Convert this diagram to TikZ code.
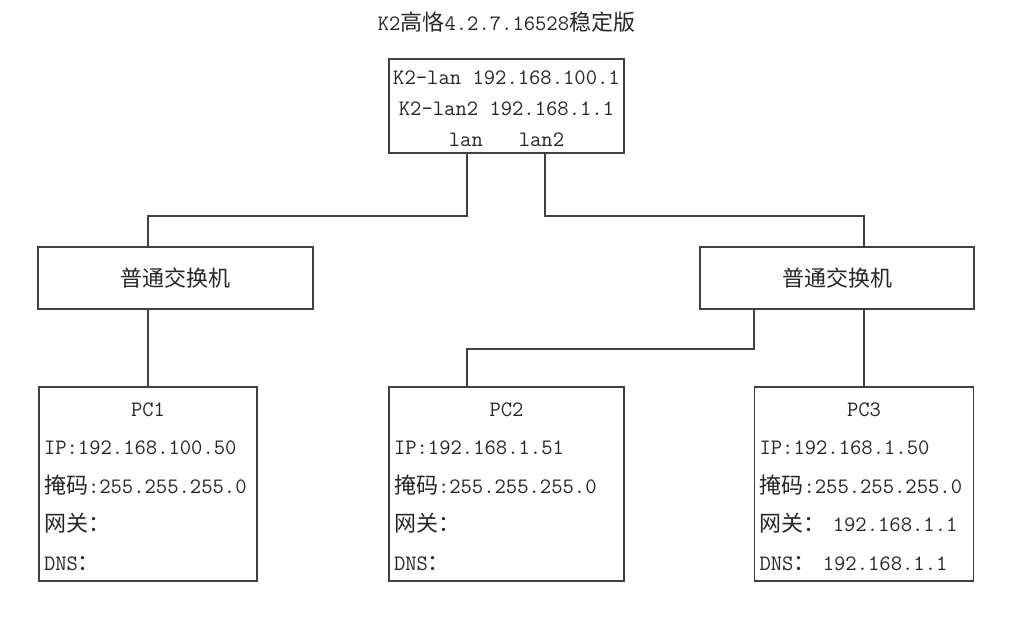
\documentclass[tikz,border=0pt]{standalone}
\usepackage{fontspec}
\setmainfont{Latin Modern Mono}
\newfontfamily\cjk{Noto Sans CJK SC}[Scale=1.0]
\usetikzlibrary{positioning}
\colorlet{linegray}{black!75}
\colorlet{textgray}{black!85}

\begin{document}
\begin{tikzpicture}[x=.75pt,y=-.75pt,every node/.style={font=\fontsize{16.5}{28.8}\selectfont,text=textgray},
    box/.style={draw=linegray,line width=1.1pt,inner sep=0pt},
    switchbox/.style={box,minimum height=46.5pt},
    pcbox/.style={box,align=left,inner xsep=3.75pt,minimum height=145.5pt,text width=#1},
    wire/.style={draw=linegray,line width=1.2pt}]
    \useasboundingbox (0,0) rectangle (1023,618);
    \node (title) at (506.5,22) {K2{\cjk 高恪}4.2.7.16528{\cjk 稳定版}};
    \node[box,minimum width=176.25pt,minimum height=70.5pt,align=center,font=\fontsize{16.5}{23.25}\selectfont] (router) at (506.5,106)
      {\rule{0pt}{15pt}K2-lan 192.168.100.1\\K2-lan2 192.168.1.1\\lan\hspace{27pt}lan2};
    \node[switchbox,minimum width=206.25pt] (sw1) at (175.5,278) {\cjk 普通交换机};
    \node[switchbox,minimum width=205.5pt] (sw2) at (837,278) {\cjk 普通交换机};
    \node[pcbox=156pt] (pc1) at (148,484)
      {\rule{0pt}{14pt}\hfill PC1\hfill\mbox{}\\IP:192.168.100.50\\{\cjk 掩码}:255.255.255.0\\{\cjk 网关：}\\DNS{\cjk ：}};
    \node[pcbox=168.75pt] (pc2) at (506.5,484)
      {\rule{0pt}{14pt}\hfill PC2\hfill\mbox{}\\IP:192.168.1.51\\{\cjk 掩码}:255.255.255.0\\{\cjk 网关：}\\DNS{\cjk ：}};
    \node[pcbox=156.75pt] (pc3) at (864,484)
      {\rule{0pt}{14pt}\hfill PC3\hfill\mbox{}\\IP:192.168.1.50\\{\cjk 掩码}:255.255.255.0\\{\cjk 网关：} 192.168.1.1\\DNS{\cjk ：} 192.168.1.1};
    % ports on the router
    \coordinate (lanport) at (router.south -| 467,0);
    \coordinate (lan2port) at (router.south -| 545,0);
    \draw[wire] (lanport) -- ++(0,62) -| (sw1.north -| pc1.north);
    \draw[wire] (lan2port) -- ++(0,62) -| (sw2.north -| pc3.north);
    \draw[wire] (sw1.south -| pc1.north) -- (pc1.north);
    \draw[wire] (sw2.south -| pc3.north) -- (pc3.north);
    \draw[wire] (sw2.south -| pc3.west) -- ++(0,39) -| (pc2.north -| lanport);
  \end{tikzpicture}
\end{document}
